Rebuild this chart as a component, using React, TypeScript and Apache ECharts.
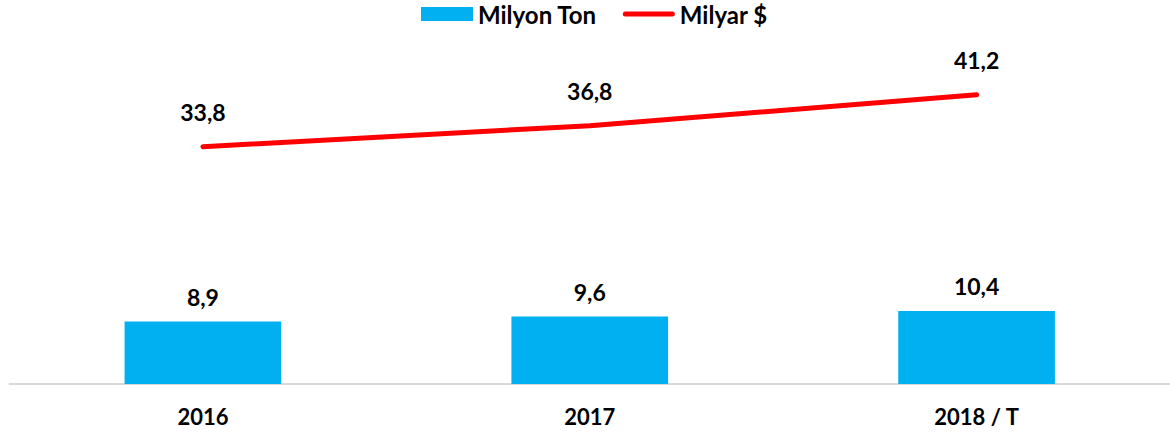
import React, { useEffect, useRef } from "react";
import * as echarts from "echarts";

const categories = ["2016", "2017", "2018 / T"];
const tonValues = [8.9, 9.6, 10.4];
const usdValues = [33.8, 36.8, 41.2];
const seriesNames = ["Milyon Ton", "Milyar $"];

const fmt = (v: number) => v.toFixed(1).replace(".", ",");
const FONT = "Lato";

const labelStyle = {
  fontFamily: FONT,
  fontWeight: "bold" as const,
  fontSize: 23,
  color: "#000",
};

const lineIcon =
  "path://M0,0 M52,14 M2.5,4.5 L49.5,4.5 A2.5,2.5 0 0 1 49.5,9.5 L2.5,9.5 A2.5,2.5 0 0 1 2.5,4.5 Z";

export default function App() {
  const ref = useRef<HTMLDivElement>(null);
  useEffect(() => {
    if (!ref.current) return;
    const chart = echarts.init(ref.current, undefined, { renderer: "svg" });
    chart.setOption({
      animation: false,
      backgroundColor: "#ffffff",
      textStyle: { fontFamily: FONT },
      legend: {
        left: 421,
        top: 2,
        padding: 0,
        itemWidth: 52,
        itemHeight: 14,
        itemGap: 26,
        data: [
          { name: seriesNames[0], icon: "rect" },
          { name: seriesNames[1], icon: lineIcon, itemStyle: { color: "#ff0000" } },
        ],
        textStyle: { fontFamily: FONT, fontWeight: "bold", fontSize: 24, color: "#000" },
      },
      grid: { left: 9.5, right: -4, top: 33, bottom: 52, containLabel: false },
      xAxis: {
        type: "category",
        data: categories,
        axisLine: { show: true, lineStyle: { color: "#d9d9d9", width: 2 } },
        axisTick: { show: false },
        axisLabel: { margin: 21, ...labelStyle, fontSize: 22 },
      },
      yAxis: {
        type: "value",
        min: 0,
        max: 50,
        show: false,
        splitLine: { show: false },
      },
      series: [
        {
          name: seriesNames[0],
          type: "bar",
          data: tonValues,
          barWidth: "40.5%",
          itemStyle: { color: "#00b0f0" },
          label: {
            show: true,
            position: "top",
            distance: 13,
            formatter: (p: any) => fmt(p.value),
            ...labelStyle,
          },
        },
        {
          name: seriesNames[1],
          type: "line",
          data: usdValues,
          symbol: "none",
          lineStyle: { color: "#ff0000", width: 5, cap: "round" },
          itemStyle: { color: "#ff0000" },
        },
        {
          name: "usdLabels",
          type: "scatter",
          data: usdValues,
          symbolSize: 0,
          itemStyle: { color: "rgba(0,0,0,0)", opacity: 1 },
          label: {
            show: true,
            position: "top",
            distance: 23,
            formatter: (p: any) => fmt(p.value),
            ...labelStyle,
          },
          silent: true,
        },
      ],
    });
    return () => chart.dispose();
  }, []);
  return (
    <div
      ref={ref}
      style={{ position: "absolute", left: 0, top: 0, width: 1170, height: 436 }}
    />
  );
}
